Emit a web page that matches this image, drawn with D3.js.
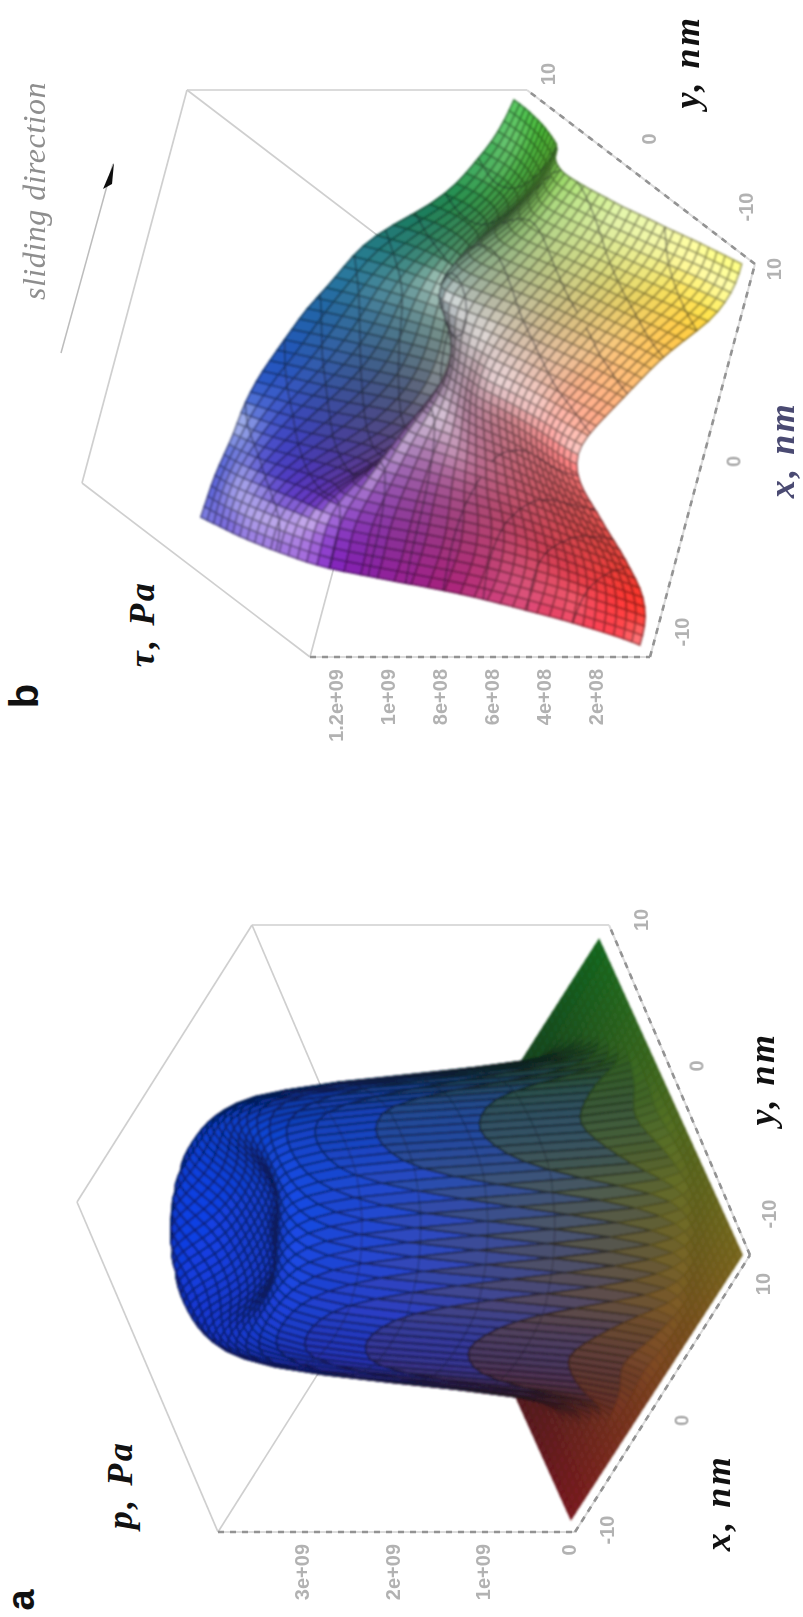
<!DOCTYPE html>
<html>
<head>
<meta charset="utf-8">
<script src="https://cdn.jsdelivr.net/npm/d3@7"></script>
<style>
    html, body { margin: 0; padding: 0; background: #fff; }
    svg { display: block; }
    .unit { font-family: "Liberation Serif", serif; font-style: italic; font-weight: 700; letter-spacing: 2.5px; }
    .tick { font-family: "Liberation Sans", sans-serif; font-weight: 700; fill: #b2b2b2; }
</style>
</head>
<body>
<svg id="chart" width="803" height="1617"></svg>
<script>
// pressure, units of 1e7 Pa, rows y = -10..10, columns x = -10..10
const pressure = [
    [0,0,0,0,0,0,0,0,0,0,0,0,0,0,0,0,0,0,0,0,0],
    [0,0,0,0,0,0,0,0,0,0,0,0,0,0,0,0,0,0,0,0,0],
    [0,0,0,0,0,0,0,0,5,25,40,25,5,0,0,0,0,0,0,0,0],
    [0,0,0,0,0,0,25,200,308,332,340,332,308,200,25,0,0,0,0,0,0],
    [0,0,0,0,0,100,318,362,380,388,390,388,380,362,318,100,0,0,0,0,0],
    [0,0,0,0,100,332,376,393,397,398,398,398,397,393,376,332,100,0,0,0,0],
    [0,0,0,25,318,376,395,398,394,388,385,388,394,398,395,376,318,25,0,0,0],
    [0,0,0,200,362,393,398,390,378,372,370,372,386,394,398,393,362,200,0,0,0],
    [0,0,5,308,380,397,394,378,368,365,364,368,378,386,394,397,380,308,5,0,0],
    [0,0,25,332,388,398,388,372,365,363,362,365,372,372,388,398,388,332,25,0,0],
    [0,0,40,340,390,398,385,370,364,362,362,362,364,370,385,398,390,340,40,0,0],
    [0,0,25,332,388,398,388,372,365,363,362,363,365,372,388,398,388,332,25,0,0],
    [0,0,5,308,380,397,394,378,368,365,364,365,368,378,394,397,380,308,5,0,0],
    [0,0,0,200,362,393,398,390,378,372,370,372,378,390,398,393,362,200,0,0,0],
    [0,0,0,25,318,376,395,398,394,388,385,388,394,398,395,376,318,25,0,0,0],
    [0,0,0,0,100,332,376,393,397,398,398,398,397,393,376,332,100,0,0,0,0],
    [0,0,0,0,0,100,318,362,380,388,390,388,380,362,318,100,0,0,0,0,0],
    [0,0,0,0,0,0,25,200,308,332,340,332,308,200,25,0,0,0,0,0,0],
    [0,0,0,0,0,0,0,0,5,25,40,25,5,0,0,0,0,0,0,0,0],
    [0,0,0,0,0,0,0,0,0,0,0,0,0,0,0,0,0,0,0,0,0],
    [0,0,0,0,0,0,0,0,0,0,0,0,0,0,0,0,0,0,0,0,0]
]

// shear stress, units of 1e7 Pa, rows y = -10..10, columns x = -10..10
const shear = [
    [2,2,4,8,14,20,27,33,40,45,47,45,40,35,30,25,18,10,6,4,4],
    [4,5,7,11,16,22,29,35,41,46,48,46,41,36,31,26,20,13,8,6,6],
    [8,9,11,14,18,24,30,36,42,46,48,47,43,38,33,28,22,16,11,8,8],
    [12,13,14,17,21,26,32,37,42,46,48,47,44,39,34,30,25,19,14,11,10],
    [16,16,17,20,24,28,33,38,42,46,48,48,45,41,37,32,27,21,17,14,13],
    [22,21,21,23,27,31,35,39,43,46,49,49,47,43,39,34,29,24,20,17,15],
    [27,26,26,27,30,34,37,41,44,47,50,50,48,45,41,36,31,26,22,19,17],
    [33,31,31,32,34,38,41,43,46,49,51,52,50,47,43,38,33,29,25,22,20],
    [39,38,37,38,40,43,45,47,49,51,53,53,52,49,45,41,36,31,27,24,21],
    [48,47,46,46,47,48,49,49,50,51,52,52,52,51,49,44,39,34,30,26,23],
    [57,56,56,56,56,55,54,53,52,52,52,53,54,55,53,48,42,37,32,28,24],
    [66,66,67,66,64,62,60,58,55,53,52,52,54,57,57,52,45,38,33,29,25],
    [75,75,75,73,70,67,64,60,55,50,46,46,50,57,60,53,45,36,30,26,23],
    [79,79,79,77,70,60,52,46,42,38,36,36,42,48,52,50,41,32,26,22,20],
    [82,82,81,76,62,50,42,36,32,30,29,30,32,36,40,38,32,25,20,16,14],
    [85,85,83,78,66,52,42,36,33,32,32,33,34,35,35,32,26,19,15,12,11],
    [87,87,85,81,72,60,50,44,40,38,37,37,36,35,32,27,21,15,12,10,9],
    [89,89,87,84,78,70,62,54,48,45,43,42,40,37,32,25,18,13,10,8,7],
    [90,90,89,87,83,78,72,65,59,54,50,48,45,40,33,24,17,12,9,7,6],
    [91,91,90,88,85,82,77,72,66,62,58,54,50,44,35,25,17,13,9,7,5],
    [92,91,90,88,86,85,83,80,76,72,68,62,57,52,42,28,20,15,10,7,5]
]

const xTicks = [-10, 0, 10]
const yTicks = [-10, 0, 10]
const pressureTicks = [1e9, 2e9, 3e9]
const pressureTickLabels = ["1e+09", "2e+09", "3e+09"]
const shearTicks = [2e8, 4e8, 6e8, 8e8, 1e9, 1.2e9]
const shearTickLabels = ["2e+08", "4e+08", "6e+08", "8e+08", "1e+09", "1.2e+09"]
const pressureLevels = [130, 200, 270, 330]
const shearLevels = [14, 24, 34, 44, 54, 64, 74, 84]

const svg = d3.select("#chart")
svg.append("rect").attr("width", 803).attr("height", 1617).attr("fill", "#fff")
const defs = svg.append("defs")
const addBlur = (id, amount) => defs.append("filter").attr("id", id)
    .attr("x", "-5%").attr("y", "-5%").attr("width", "110%").attr("height", "110%")
    .append("feGaussianBlur").attr("stdDeviation", amount)
addBlur("soft", 0.75)
addBlur("softer", 1)

const lerp = (a, b, t) => [d3.interpolateNumber(a[0], b[0])(t), d3.interpolateNumber(a[1], b[1])(t)]

/** Smooth a table read on a 1 nm grid to the 0.5 nm mesh the surface is drawn with */
function refine(table) {
    const rows = table.map(row => {
        const spline = d3.interpolateBasis(row)
        return d3.range(41).map(i => spline(i / 40))
    })
    const out = d3.range(41).map(() => new Array(41))
    for (let i = 0; i < 41; i++) {
        const spline = d3.interpolateBasis(rows.map(r => r[i]))
        for (let j = 0; j < 41; j++) out[j][i] = spline(j / 40)
    }
    return out
}

function drawPanel(cfg) {
    const g = svg.append("g")
    const z = d3.scaleLinear().domain(cfg.zDomain).range([0, cfg.zPx])

    // box edges
    const top = p => [p[0] - cfg.zPx, p[1]]
    const edges = [
        [top(cfg.box.o), top(cfg.box.y)],
        [top(cfg.box.y), top(cfg.box.xy)],
        [top(cfg.box.xy), cfg.box.xy],
        [top(cfg.box.xy), top(cfg.box.x)],
        [top(cfg.box.o), top(cfg.box.x)]
    ]
    g.selectAll("line.box").data(edges).join("line").attr("class", "box")
        .attr("x1", d => d[0][0]).attr("y1", d => d[0][1])
        .attr("x2", d => d[1][0]).attr("y2", d => d[1][1])
        .attr("stroke", "#cfcfcf").attr("stroke-width", 1.7)

    // dashed axes over a pale line
    const axes = [[top(cfg.box.o), cfg.box.o], [cfg.box.o, cfg.box.x], [cfg.box.x, cfg.box.xy]]
    g.selectAll("line.under").data(axes).join("line").attr("class", "under")
        .attr("x1", d => d[0][0]).attr("y1", d => d[0][1])
        .attr("x2", d => d[1][0]).attr("y2", d => d[1][1])
        .attr("stroke", "#dcdcdc").attr("stroke-width", 2)
    g.selectAll("line.axis").data(axes).join("line").attr("class", "axis")
        .attr("x1", d => d[0][0]).attr("y1", d => d[0][1])
        .attr("x2", d => d[1][0]).attr("y2", d => d[1][1])
        .attr("stroke", "#939393").attr("stroke-width", 2.6).attr("stroke-dasharray", "6 6")

    // surface
    const mesh = refine(cfg.values)
    const nodes = mesh.map((row, j) => row.map((h, i) => {
        const p = cfg.surface(i / 40, j / 40)
        return [p[0] - z(h), p[1]]
    }))
    const L = cfg.light
    const cells = []
    for (let j = 0; j < 40; j++) {
        for (let i = 0; i < 40; i++) {
            const c = [mesh[j][i], mesh[j][i + 1], mesh[j + 1][i + 1], mesh[j + 1][i]]
            const pts = [nodes[j][i], nodes[j][i + 1], nodes[j + 1][i + 1], nodes[j + 1][i]]
            const u = (i + 0.5) / 40, v = (j + 0.5) / 40, h = d3.mean(c)
            const zu = (c[1] + c[2] - c[0] - c[3]) / 2 * 40 / cfg.zDomain[1]
            const zv = (c[2] + c[3] - c[0] - c[1]) / 2 * 40 / cfg.zDomain[1]
            const len = Math.hypot(zu, zv, 1)
            const dot = Math.max(0, (-zu * L[0] - zv * L[1] + L[2]) / len)
            const shade = cfg.ambient + cfg.diffuse * dot
            const base = cfg.color(u, v, h)
            const spec = cfg.spec * Math.pow(dot, 16)
            const mix = k => Math.min(255, k * shade + (255 - k * shade) * spec)
            const fill = d3.rgb(mix(base[0]), mix(base[1]), mix(base[2]))

            // level crossings of this cell
            let contour = ""
            cfg.levels.forEach(level => {
                const hits = []
                for (let k = 0; k < 4; k++) {
                    const a = c[k], b = c[(k + 1) % 4]
                    if ((a - level) * (b - level) < 0) hits.push(lerp(pts[k], pts[(k + 1) % 4], (level - a) / (b - a)))
                }
                if (hits.length >= 2) contour += `M${hits[0]}L${hits[1]}`
            })
            cells.push({
                d: "M" + pts.join("L") + "Z",
                fill: fill.formatRgb(),
                stroke: fill.darker(cfg.lineDark * Math.min(1, 0.12 + h / cfg.lineFade)).formatRgb(),
                contour,
                order: cfg.view[0] * u + cfg.view[1] * v
            })
        }
    }
    cells.sort((a, b) => d3.ascending(a.order, b.order))
    const surface = g.append("g").attr("filter", "url(#softer)")
    cells.forEach(cell => {
        surface.append("path").attr("d", cell.d).attr("fill", cell.fill)
            .attr("stroke", cell.stroke).attr("stroke-width", cfg.lineWidth)
        if (cell.contour) surface.append("path").attr("d", cell.contour).attr("fill", "none")
            .attr("stroke", "#161622").attr("stroke-opacity", cfg.contourOpacity).attr("stroke-width", 1.3)
    })

    // tick labels
    const labels = g.append("g").attr("filter", "url(#soft)")
    const addTick = (x, y, text, anchor) => labels.append("text").attr("class", "tick")
        .attr("transform", `translate(${x},${y}) rotate(-90)`)
        .attr("text-anchor", anchor).attr("dominant-baseline", "middle")
        .attr("font-size", 20).text(text)
    const tickU = d3.scaleLinear().domain([-10, 10]).range([0, 1])
    xTicks.forEach((t, i) => {
        const p = lerp(cfg.box.o, cfg.box.x, tickU(t))
        addTick(p[0] + cfg.xTickOffsets[i][0], p[1] + cfg.xTickOffsets[i][1], t, "middle")
    })
    yTicks.forEach((t, i) => {
        const p = lerp(cfg.box.x, cfg.box.xy, tickU(t))
        addTick(p[0] + cfg.yTickOffsets[i][0], p[1] + cfg.yTickOffsets[i][1], t, "middle")
    })
    cfg.zTicks.forEach((t, i) => {
        addTick(cfg.box.o[0] - z(t / 1e7), cfg.box.o[1] + 12, cfg.zLabels[i], "end")
    })
    if (cfg.zeroLabel) addTick(cfg.box.o[0] - 4, cfg.box.o[1] + 18, cfg.zeroLabel, "middle")

    // labels
    cfg.titles.forEach(t => {
        const text = g.append("text").attr("class", t.cls)
            .attr("transform", `translate(${t.x},${t.y}) rotate(-90)`)
            .attr("text-anchor", "middle").attr("dominant-baseline", "middle")
            .attr("font-size", t.size).attr("fill", t.color || "#111").text(t.text)
        if (t.family) text.attr("font-family", t.family).attr("font-weight", 700)
    })
}

// panel a
const boxA = {o: [575, 1532], x: [750, 1255], xy: [609, 925], y: [434, 1202]}
const surfA = {o: [571, 1519], x: [742, 1255], xy: [599, 940], y: [430, 1205]}
drawPanel({
    values: pressure, levels: pressureLevels,
    box: boxA,
    surface: (u, v) => lerp(lerp(surfA.o, surfA.x, u), lerp(surfA.y, surfA.xy, u), v),
    zDomain: [0, 395], zPx: 357,
    zTicks: pressureTicks, zLabels: pressureTickLabels, zeroLabel: "0",
    color: (u, v, h) => {
        const t = Math.min(1, h / 380)
        return [((1 - v) * 95 + 20) * (1 - 0.75 * t), (u * 75 + 24) * (1 - 0.7 * t) + t * 38, 30 + Math.min(1, h / 300) * 160]
    },
    light: [0.5, -0.45, 0.74], ambient: 0.72, diffuse: 0.48, spec: 0,
    view: [1, -0.84], lineDark: 1.7, lineWidth: 1.7, lineFade: 80, contourOpacity: 0.35,
    xTickOffsets: [[34, -2], [21, 27], [15, 29]],
    yTickOffsets: [[21, -41], [19, -24], [34, -5]],
    titles: [
        {cls: "", family: "Liberation Sans", x: 24, y: 1600, size: 38, text: "a"},
        {cls: "unit", x: 124, y: 1485, size: 36, text: "p, Pa"},
        {cls: "unit", x: 722, y: 1503, size: 36, text: "x, nm"},
        {cls: "unit", x: 766, y: 1079, size: 36, text: "y, nm"}
    ]
})

// panel b
const boxB = {o: [650, 657], x: [755, 264], xy: [527, 90], y: [422, 483]}
const surfB = {o: [645, 645], x: [752, 264], xy: [527, 100], y: [440, 517]}
drawPanel({
    values: shear, levels: shearLevels,
    box: boxB,
    surface: (u, v) => lerp(lerp(surfB.o, surfB.x, u), lerp(surfB.y, surfB.xy, u), v),
    zDomain: [0, 130.8], zPx: 340,
    zTicks: shearTicks, zLabels: shearTickLabels,
    color: (u, v, h) => [(1 - v) * 225 + 28, u * (205 - 70 * v) + 28, 30 + Math.min(1, h / 75) * 150],
    light: [0.2, -0.3, 0.93], ambient: 0.6, diffuse: 0.55, spec: 0.6,
    view: [0.44, -1], lineDark: 1.3, lineWidth: 1.7, lineFade: 1, contourOpacity: 0.6,
    xTickOffsets: [[34, -25], [33, 1], [21, 5]],
    yTickOffsets: [[-7, -57], [10, -38], [23, -16]],
    titles: [
        {cls: "", family: "Liberation Sans", x: 27, y: 696, size: 40, text: "b"},
        {cls: "unit", x: 146, y: 624, size: 36, text: "τ, Pa"},
        {cls: "unit", x: 786, y: 450, size: 36, color: "#4a4a72", text: "x, nm"},
        {cls: "unit", x: 691, y: 62, size: 36, text: "y, nm"}
    ]
})

// sliding direction note
const note = svg.append("g").attr("filter", "url(#soft)")
note.append("text").attr("class", "unit")
    .attr("transform", "translate(38,191) rotate(-90)")
    .attr("text-anchor", "middle").attr("dominant-baseline", "middle")
    .attr("font-size", 32).style("font-weight", 400).style("letter-spacing", "0.5px")
    .attr("fill", "#8e8e8e").text("sliding direction")
const arrowFrom = [61, 353], arrowTo = [113, 164]
note.append("line").attr("x1", arrowFrom[0]).attr("y1", arrowFrom[1])
    .attr("x2", arrowTo[0]).attr("y2", arrowTo[1])
    .attr("stroke", "#bcbcbc").attr("stroke-width", 1.5)
note.append("path").attr("d", d3.line()([[114, 163], [103, 189], [112, 184]]) + "Z").attr("fill", "#111")
</script>
</body>
</html>
